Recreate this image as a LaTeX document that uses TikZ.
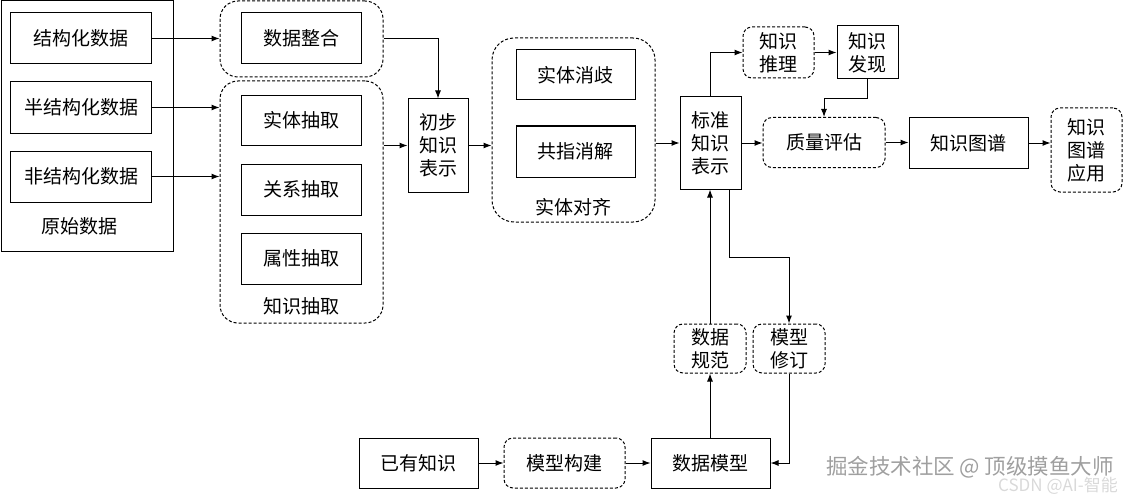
\documentclass[tikz,border=0pt]{standalone}
\usepackage{fontspec}
\newfontfamily\cn{Noto Sans CJK SC}
\usetikzlibrary{arrows.meta,positioning}
\begin{document}
\begin{tikzpicture}[x=1pt,y=-1pt,
  box/.style={draw, line width=1pt, inner sep=0pt, align=center,
    font=\cn\fontsize{19}{23}\selectfont},
  dbox/.style={box, dash pattern=on 3pt off 2pt, rounded corners=9pt},
  grp/.style={draw, line width=1pt, dash pattern=on 3pt off 2pt, rounded corners=18pt, inner sep=0pt},
  lbl/.style={inner sep=0pt, font=\cn\fontsize{19}{23}\selectfont},
  arr/.style={line width=1pt, -{Latex[length=8pt,width=6pt]}},
]
\useasboundingbox (0,0) rectangle (1142,500);
% original data
\node[draw, line width=1pt, minimum width=172pt, minimum height=250pt] (raw) at (87,126) {};
\node[box, minimum width=141pt, minimum height=51pt] (s1) at (81,38.5) {结构化数据};
\node[box, minimum width=141pt, minimum height=51pt] (s2) at (81,107.5) {半结构化数据};
\node[box, minimum width=141pt, minimum height=51pt] (s3) at (81,176.5) {非结构化数据};
\node[lbl] (rawl) at (79,226) {原始数据};
% integration
\node[grp, minimum width=163pt, minimum height=76pt] (g1) at (301.5,39) {};
\node[box, minimum width=120pt, minimum height=51pt] (int) at (301,38.5) {数据整合};
% extraction
\node[grp, minimum width=163pt, minimum height=242pt] (g2) at (301.5,202) {};
\node[box, minimum width=120pt, minimum height=50pt] (e1) at (301,120.5) {实体抽取};
\node[box, minimum width=120pt, minimum height=51pt] (e2) at (301,189.5) {关系抽取};
\node[box, minimum width=120pt, minimum height=51pt] (e3) at (301,258.5) {属性抽取};
\node[lbl] (g2l) at (301,306) {知识抽取};
% preliminary
\node[box, minimum width=60pt, minimum height=93pt] (pre) at (438,145.5) {初步\\知识\\表示};
% alignment
\node[grp, minimum width=163pt, minimum height=184pt, rounded corners=22pt] (g3) at (573.5,130) {};
\node[box, minimum width=119pt, minimum height=50pt] (d1) at (575.5,75) {实体消歧};
\node[box, minimum width=119pt, minimum height=51pt] (d2) at (575.5,151.5) {共指消解};
\node[lbl] (g3l) at (573,207) {实体对齐};
% standard
\node[box, minimum width=61pt, minimum height=92pt] (std) at (710.5,143) {标准\\知识\\表示};
\node[dbox, minimum width=71pt, minimum height=51pt] (inf) at (778.5,52.5) {知识\\推理};
\node[box, minimum width=61pt, minimum height=53pt] (disc) at (867.5,52.5) {知识\\发现};
\node[dbox, minimum width=122pt, minimum height=50pt] (qa) at (824,142.5) {质量评估};
\node[box, minimum width=119pt, minimum height=50pt] (kg) at (968.5,143) {知识图谱};
\node[dbox, minimum width=71pt, minimum height=84pt] (app) at (1086.5,150) {知识\\图谱\\应用};
% model
\node[dbox, minimum width=72pt, minimum height=49pt] (norm) at (710,348.5) {数据\\规范};
\node[dbox, minimum width=72pt, minimum height=49pt] (rev) at (789,348.5) {模型\\修订};
\node[box, minimum width=119pt, minimum height=50pt] (known) at (418.5,463) {已有知识};
\node[dbox, minimum width=121pt, minimum height=50pt] (build) at (564.5,463) {模型构建};
\node[box, minimum width=119pt, minimum height=50pt] (dm) at (710.5,463) {数据模型};
% watermark
\node[inner sep=0pt, text=gray!75, font=\cn\fontsize{21.5}{24}\selectfont] (wm) at (970,467) {掘金技术社区 @ 顶级摸鱼大师};
\node[inner sep=0pt, text=gray!30, font=\cn\fontsize{17}{18}\selectfont] (wm2) at (1058,486) {CSDN @AI-智能};
% connectors
\draw[arr] (s1.east) -- (s1.east -| g1.west);
\draw[arr] (s2.east) -- (s2.east -| g2.west);
\draw[arr] (s3.east) -- (s3.east -| g2.west);
\draw[arr] (g1.east) -| (pre.north);
\draw[arr] (pre.west -| g2.east) -- (pre.west);
\draw[arr] (pre.east) -- (pre.east -| g3.west);
\draw[arr] (std.west -| g3.east) -- (std.west);
\draw[arr] (std.north) |- (inf.west);
\draw[arr] (inf.east) -- (disc.west);
\draw[arr] (disc.south) -- ++(0,19) -| (qa.north);
\draw[arr] (std.east) -- (std.east -| qa.west);
\draw[arr] (qa.east) -- (qa.east -| kg.west);
\draw[arr] (kg.east) -- (kg.east -| app.west);
\draw[arr] (dm.north -| norm.south) -- (norm.south);
\draw[arr] (norm.north) -- (norm.north |- std.south);
\draw[arr] ([xshift=-12pt]std.south east) -- ++(0,68) -| (rev.north);
\draw[arr] (rev.south) |- (dm.east);
\draw[arr] (known.east) -- (build.west);
\draw[arr] (build.east) -- (dm.west);
\end{tikzpicture}
\end{document}
